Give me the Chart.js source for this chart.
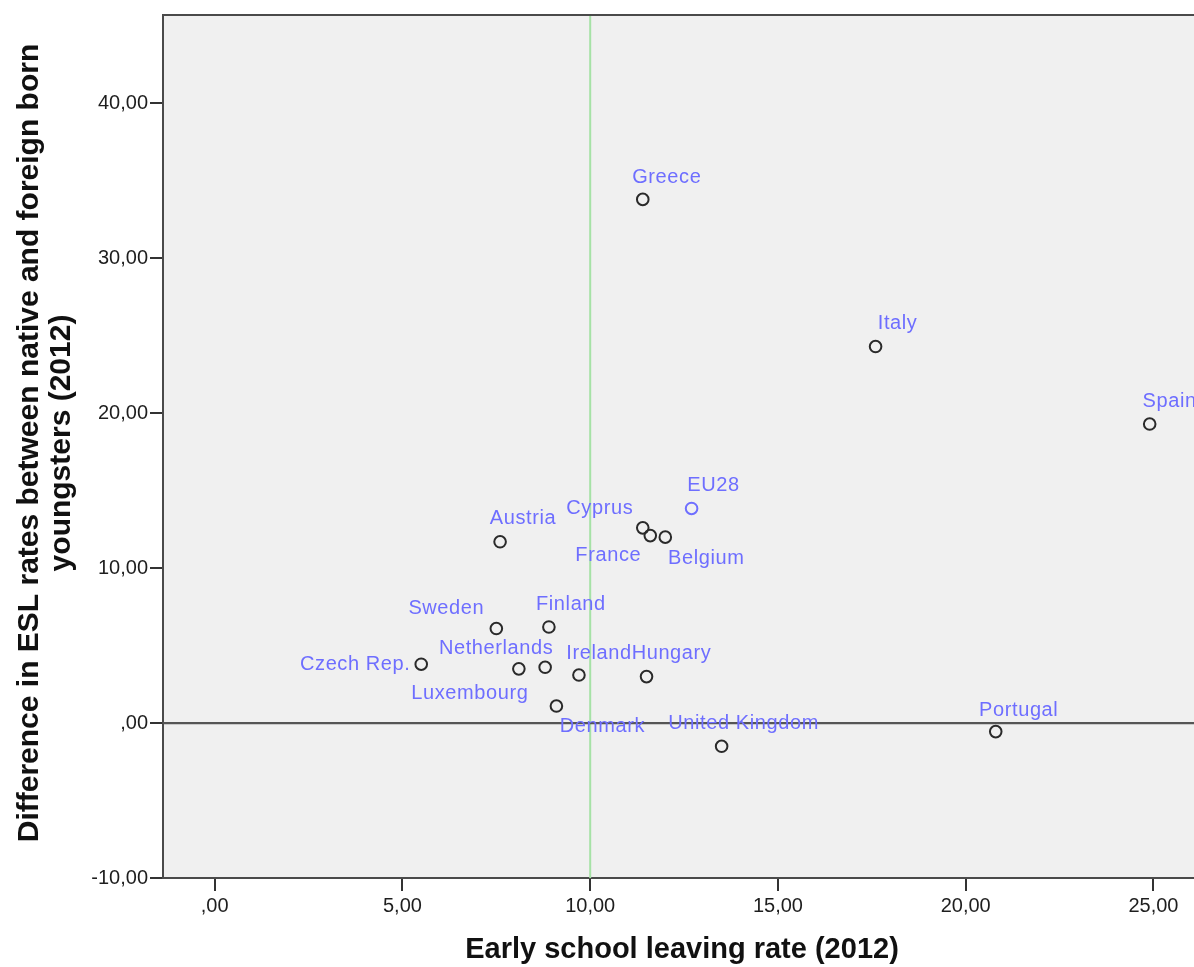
<!DOCTYPE html>
<html>
<head>
<meta charset="utf-8">
<script src="https://cdn.jsdelivr.net/npm/chart.js@4/dist/chart.umd.min.js"></script>
<style>
    html, body { margin: 0; padding: 0; background: #fff; }
    #wrap { width: 1194px; height: 967px; }
</style>
</head>
<body>
<div id="wrap"><canvas id="esl-chart" width="1194" height="967"></canvas></div>
<script>
// data
const countries = ['Greece', 'Italy', 'Spain', 'EU28', 'Cyprus', 'France', 'Belgium', 'Austria',
    'Sweden', 'Finland', 'Czech Rep.', 'Luxembourg', 'Netherlands', 'Ireland', 'Hungary',
    'Denmark', 'United Kingdom', 'Portugal'];
const eslRate = [11.4, 17.6, 24.9, 12.7, 11.4, 11.6, 12.0, 7.6,
    7.5, 8.9, 5.5, 8.1, 8.8, 9.7, 11.5,
    9.1, 13.5, 20.8];
const eslGap = [33.8, 24.3, 19.3, 13.85, 12.6, 12.1, 12.0, 11.7,
    6.1, 6.2, 3.8, 3.5, 3.6, 3.1, 3.0,
    1.1, -1.5, -0.55];

const xTicks = [0, 5, 10, 15, 20, 25];
const yTicks = [-10, 0, 10, 20, 30, 40];
const refX = 10;   // vertical reference line
const refY = 0;    // horizontal reference line

// where each country name sits relative to its marker (px)
const labelOffsets = {
    'Greece': [24, -22], 'Italy': [22, -23], 'Spain': [20, -23], 'EU28': [22, -23],
    'Cyprus': [-43, -19], 'France': [-42, 20], 'Belgium': [41, 21], 'Austria': [23, -23],
    'Sweden': [-50, -20], 'Finland': [22, -23], 'Czech Rep.': [-66, 0], 'Luxembourg': [-49, 25],
    'Netherlands': [-49, -19], 'Ireland': [20, -22], 'Hungary': [25, -23], 'Denmark': [46, 20],
    'United Kingdom': [22, -23], 'Portugal': [23, -21]
};

const labelBlue = '#6e6eff';
const frameColor = '#4a4a4a';

const fmt = v => v === 0 ? ',00' : v.toFixed(2).replace('.', ',');

const spssLook = {
    id: 'spssLook',
    beforeDraw(chart) {
        const { ctx, chartArea: a } = chart;
        ctx.save();
        ctx.fillStyle = '#f0f0f0';
        ctx.fillRect(a.left, a.top, a.right - a.left, a.bottom - a.top);
        ctx.restore();
    },
    beforeDatasetsDraw(chart) {
        const { ctx, chartArea: a, scales } = chart;
        const px = scales.x.getPixelForValue(refX);
        const py = scales.y.getPixelForValue(refY);
        ctx.save();
        ctx.lineWidth = 2;
        ctx.strokeStyle = '#a6e2a6';
        ctx.beginPath();
        ctx.moveTo(px, a.top);
        ctx.lineTo(px, a.bottom);
        ctx.stroke();
        ctx.strokeStyle = '#555';
        ctx.lineWidth = 2.2;
        ctx.beginPath();
        ctx.moveTo(a.left, py);
        ctx.lineTo(a.right, py);
        ctx.stroke();
        // top of the frame
        ctx.lineWidth = 2;
        ctx.strokeStyle = frameColor;
        ctx.beginPath();
        ctx.moveTo(a.left - 1, a.top);
        ctx.lineTo(a.right, a.top);
        ctx.stroke();
        ctx.restore();
    },
    afterDatasetsDraw(chart) {
        const { ctx } = chart;
        const meta = chart.getDatasetMeta(0);
        ctx.save();
        ctx.font = '20px "Liberation Sans", Arial, sans-serif';
        ctx.letterSpacing = '0.6px';
        ctx.fillStyle = labelBlue;
        ctx.textAlign = 'center';
        ctx.textBaseline = 'middle';
        meta.data.forEach((pt, i) => {
            const off = labelOffsets[countries[i]] || [0, -22];
            ctx.fillText(countries[i], pt.x + off[0], pt.y + off[1]);
        });
        ctx.restore();
    },
    afterDraw(chart) {
        const { ctx } = chart;
        ctx.save();
        ctx.fillStyle = '#111';
        ctx.font = 'bold 29px "Liberation Sans", Arial, sans-serif';
        ctx.textAlign = 'center';
        ctx.textBaseline = 'middle';
        ctx.fillText('Early school leaving rate (2012)', 682, 950);
        ctx.font = 'bold 30px "Liberation Sans", Arial, sans-serif';
        ctx.translate(0, 443);
        ctx.rotate(-Math.PI / 2);
        ctx.fillText('Difference in ESL rates between native and foreign born', 0, 30);
        ctx.fillText('youngsters (2012)', 0, 62);
        ctx.restore();
    }
};

new Chart(document.getElementById('esl-chart'), {
    type: 'scatter',
    data: {
        datasets: [{
            data: eslRate.map((x, i) => ({ x, y: eslGap[i] })),
            backgroundColor: 'rgba(0,0,0,0)',
            borderColor: countries.map(c => c === 'EU28' ? labelBlue : '#2a2a2a'),
            borderWidth: 2,
            pointRadius: 5.8,
            pointHoverRadius: 5.8,
        }]
    },
    options: {
        responsive: false,
        animation: false,
        events: [],
        layout: { autoPadding: false, padding: { top: 15, left: 0, right: 0, bottom: 0 } },
        plugins: {
            legend: { display: false },
            tooltip: { enabled: false }
        },
        scales: {
            x: {
                type: 'linear',
                min: -1.377,
                max: 26.08,
                afterBuildTicks: s => { s.ticks = xTicks.map(value => ({ value })); },
                afterFit: s => { s.height = 89; s.paddingLeft = 0; s.paddingRight = 0; },
                grid: { drawOnChartArea: false, drawTicks: true, tickLength: 13, tickColor: '#333', lineWidth: 2 },
                border: { display: true, color: frameColor, width: 2 },
                ticks: {
                    callback: v => fmt(v),
                    color: '#1e1e1e',
                    padding: 3,
                    maxRotation: 0,
                    font: { family: '"Liberation Sans", Arial, sans-serif', size: 20 }
                }
            },
            y: {
                type: 'linear',
                min: -10,
                max: 45.7,
                afterBuildTicks: s => { s.ticks = yTicks.map(value => ({ value })); },
                afterFit: s => { s.width = 163; s.paddingTop = 0; s.paddingBottom = 0; },
                grid: { drawOnChartArea: false, drawTicks: true, tickLength: 13, tickColor: '#333', lineWidth: 2 },
                border: { display: true, color: frameColor, width: 2 },
                ticks: {
                    callback: v => fmt(v),
                    color: '#1e1e1e',
                    padding: 2,
                    font: { family: '"Liberation Sans", Arial, sans-serif', size: 20 }
                }
            }
        }
    },
    plugins: [spssLook]
});
</script>
</body>
</html>
